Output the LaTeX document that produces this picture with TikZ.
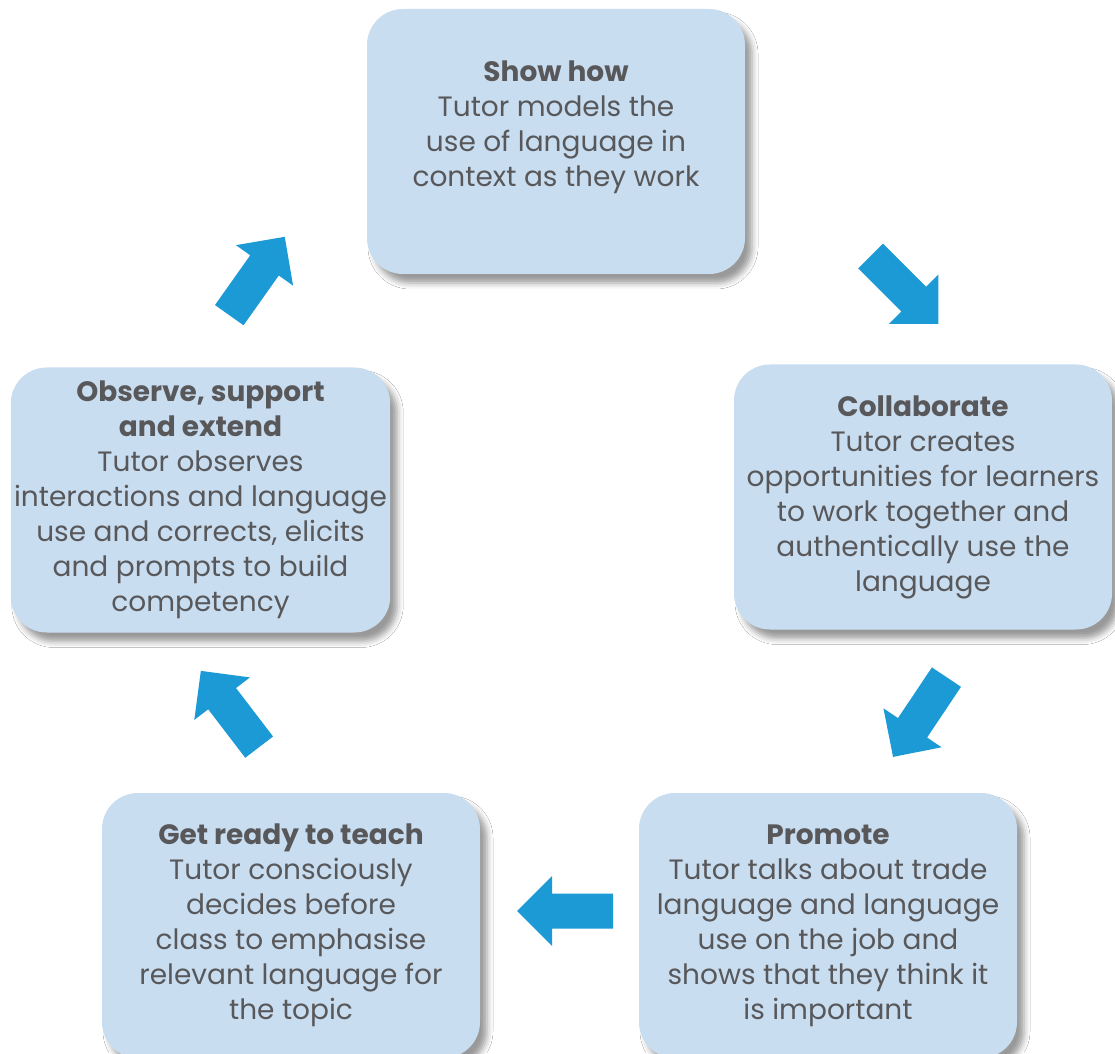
\documentclass[tikz,border=0pt]{standalone}
\usepackage{fontspec}
\setmainfont{Poppins}
\usetikzlibrary{positioning}
\usetikzlibrary{shadows.blur}
\definecolor{stageblue}{RGB}{201,221,241}
\definecolor{arrowblue}{RGB}{27,154,214}
\definecolor{textgrey}{RGB}{88,88,90}
\tikzset{
  stage/.style={fill=stageblue, rounded corners=36pt, minimum width=378pt,
    minimum height=265pt, align=center, text=textgrey,
    font=\fontsize{28}{35}\selectfont,
    blur shadow={shadow xshift=7pt, shadow yshift=-9pt,
      shadow blur radius=6pt, shadow opacity=40}}
}
% block arrow of length 96, centred on #1 and turned by #2
\newcommand{\blockArrow}[2]{
  \fill[arrowblue, shift={(#1)}, rotate=#2]
    (48,0) -- (13,35) -- (13,17.5) -- (-48,17.5) -- (-48,-17.5)
    -- (13,-17.5) -- (13,-35) -- cycle;
}

\begin{document}
\begin{tikzpicture}[x=1pt, y=1pt]
  \fill[white] (0,0) rectangle (1115,1053);
  \useasboundingbox (0,0) rectangle (1115,1053);
  \clip (0,0) rectangle (1115,1053);

  \node [stage] (show) at (556,911.5)
    {\textbf{Show how}\\Tutor models the\\use of language in\\context as they work\\~};
  \node [stage] (collab) at (923,556)
    {\textbf{Collaborate}\\Tutor creates\\opportunities for learners\\to work together and\\authentically use the\\language};
  \node [stage] (promote) at (828,127.5)
    {\textbf{Promote}\\Tutor talks about trade\\language and language\\use on the job and\\shows that they think it\\is important};
  \node [stage] (ready) at (291,127.5)
    {\textbf{Get ready to teach}\\Tutor consciously\\decides before\\class to emphasise\\relevant language for\\the topic};
  \node [stage] (observe) at (200.5,553)
    {\textbf{Observe, support}\\\textbf{and extend}\\Tutor observes\\interactions and language\\use and corrects, elicits\\and prompts to build\\competency};

  % arrows round the cycle
  \coordinate (show-collab) at (904.5,763);
  \coordinate (collab-promote) at (919.75,336);
  \coordinate (promote-ready) at (565,142);
  \coordinate (ready-observe) at (230,344);
  \coordinate (observe-show) at (257,777);

  \foreach \c/\a in {show-collab/-45, collab-promote/-123.8, promote-ready/180,
                     ready-observe/127.4, observe-show/54.7}
    {\blockArrow{\c}{\a}}
\end{tikzpicture}
\end{document}
